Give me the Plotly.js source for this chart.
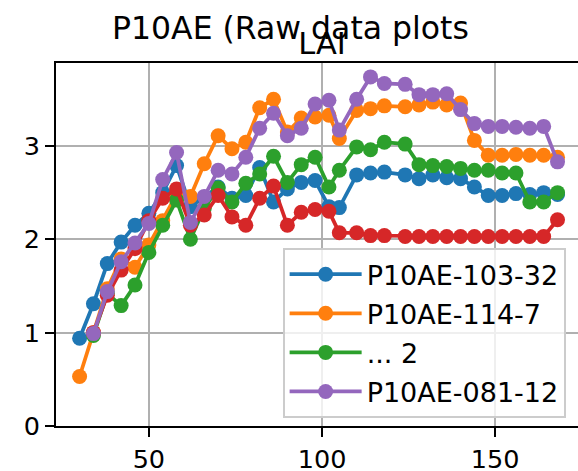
<!DOCTYPE html>
<html>
<head>
<meta charset="utf-8">
<script src="https://cdn.plot.ly/plotly-3.0.1.min.js"></script>
<style>
html, body { margin: 0; padding: 0; overflow: hidden; background: #fff; }
#chart { width: 590px; height: 471px; }
</style>
</head>
<body>
<div id="chart"></div>
<script>
// Days (x values)
const daysLong = [30,34,38,42,46,50,54,58,62,66,70,74,78,82,86,90,94,98,102,105,110,114,118,124,128,132,136,140,144,148,152,156,160,164,168];
const daysShort = [34,38,42,46,50,54,58,62,66,70,74,78,82,86,90,94,98,102,105,110,114,118,124,128,132,136,140,144,148,152,156,160,164,168];

// LAI series
const lai_103_32 = [0.94,1.31,1.74,1.97,2.15,2.28,2.50,2.79,2.35,2.45,2.56,2.44,2.47,2.77,2.40,2.54,2.61,2.63,2.35,2.34,2.69,2.71,2.72,2.69,2.65,2.69,2.66,2.65,2.56,2.47,2.47,2.49,2.48,2.50,2.48];
const lai_114_7 = [0.53,1.00,1.47,1.79,1.70,1.94,2.20,2.48,2.46,2.81,3.11,2.97,3.04,3.41,3.50,3.15,3.30,3.31,3.33,3.08,3.38,3.40,3.43,3.42,3.44,3.47,3.44,3.46,3.06,2.90,2.90,2.91,2.90,2.90,2.88];
const lai_2 = [0.97,1.42,1.29,1.51,1.86,2.15,2.42,2.00,2.33,2.55,2.40,2.60,2.70,2.89,2.61,2.80,2.88,2.56,2.74,2.99,2.96,3.04,3.02,2.80,2.79,2.78,2.76,2.74,2.74,2.71,2.71,2.40,2.40,2.50];
const lai_red = [1.00,1.40,1.67,1.90,2.20,2.44,2.54,2.15,2.26,2.47,2.24,2.15,2.44,2.57,2.15,2.29,2.32,2.30,2.07,2.07,2.04,2.04,2.03,2.03,2.03,2.03,2.03,2.03,2.03,2.03,2.03,2.03,2.03,2.21];
const lai_081_12 = [0.99,1.44,1.76,1.96,2.17,2.64,2.93,2.18,2.46,2.74,2.70,2.88,3.19,3.35,3.11,3.19,3.45,3.49,3.17,3.50,3.74,3.67,3.66,3.55,3.55,3.56,3.39,3.24,3.21,3.21,3.20,3.19,3.21,2.83];

const names = ["P10AE-103-32", "P10AE-114-7", "... 2", "", "P10AE-081-12"];
const colors = ["#1f77b4", "#ff7f0e", "#2ca02c", "#d62728", "#9467bd"];
const xs = [daysLong, daysLong, daysShort, daysShort, daysShort];
const ys = [lai_103_32, lai_114_7, lai_2, lai_red, lai_081_12];

const FONT = "DejaVu Sans, sans-serif";

const traces = ys.map((y, i) => ({
  x: xs[i], y: y, type: "scatter", mode: "lines+markers",
  name: names[i], showlegend: i !== 3, legendgroup: "g" + i,
  line: { color: colors[i], width: 3.75 },
  marker: { color: colors[i], size: 15 }
}));

const layout = {
  width: 590, height: 471,
  margin: { l: 56, r: 2, t: 63, b: 45 },
  paper_bgcolor: "#fff", plot_bgcolor: "#fff",
  font: { family: FONT, size: 25.5, color: "#000" },
  title: { text: "LAI", font: { family: FONT, size: 30.5, color: "#000" },
           x: 0.5, xref: "paper", xanchor: "center", y: 1, yref: "paper", yanchor: "bottom", pad: { b: 9 } },
  xaxis: {
    range: [23.19, 176.8], tickvals: [50, 100, 150], ticktext: ["50", "100", "150"],
    showgrid: true, gridcolor: "#b0b0b0", gridwidth: 2,
    showline: true, linecolor: "#000", linewidth: 2, mirror: true,
    ticks: "outside", ticklen: 9, tickwidth: 2, tickcolor: "#000",
    zeroline: false, tickfont: { family: FONT, size: 25.5, color: "#000" }
  },
  yaxis: {
    range: [0, 3.889], tickvals: [0, 1, 2, 3], ticktext: ["0", "1", "2", "3"],
    showgrid: true, gridcolor: "#b0b0b0", gridwidth: 2,
    showline: true, linecolor: "#000", linewidth: 2, mirror: false,
    ticks: "outside", ticklen: 9, tickwidth: 2, tickcolor: "#000",
    zeroline: false, tickfont: { family: FONT, size: 25.5, color: "#000" }
  },
  legend: {
    x: 0.426, y: 0.49, xanchor: "left", yanchor: "top",
    bgcolor: "rgba(255,255,255,0.8)", bordercolor: "#cccccc", borderwidth: 2,
    font: { family: FONT, size: 27, color: "#000" },
    tracegroupgap: 1, itemwidth: 72
  },
  annotations: [{
    text: "P10AE (Raw data plots", xref: "paper", yref: "paper",
    x: 0.44, y: 1.041, xanchor: "center", yanchor: "bottom", showarrow: false,
    font: { family: FONT, size: 31.5, color: "#000" }
  }]
};

Plotly.newPlot("chart", traces, layout, { displayModeBar: false, responsive: false, staticPlot: true });
</script>
</body>
</html>
